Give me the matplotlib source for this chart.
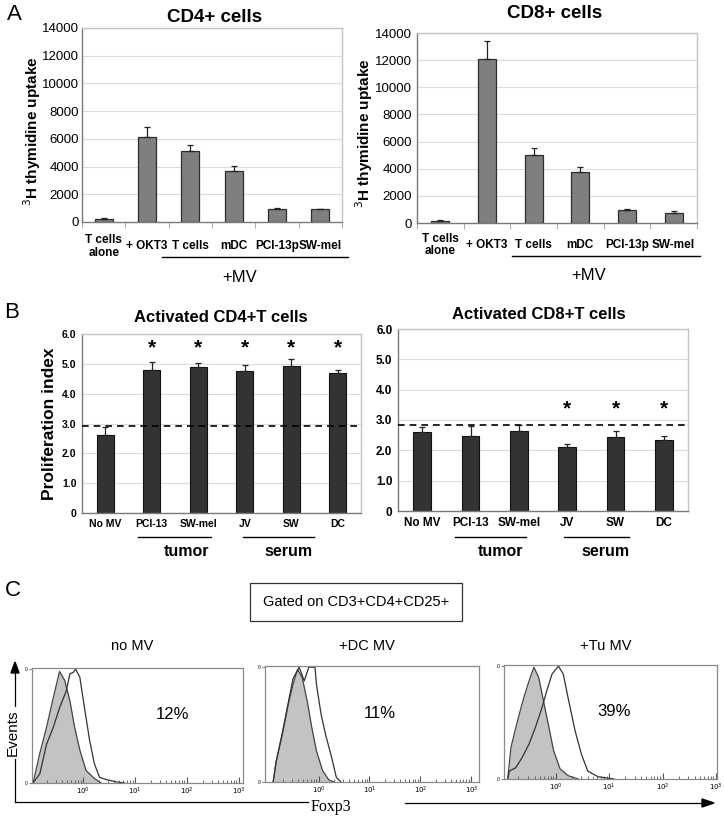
"""
Three-panel MV figure: thymidine uptake (A), proliferation index (B)
and Foxp3 histograms (C). Saves out.png.
"""

import numpy as np
import matplotlib.pyplot as plt
from matplotlib.lines import Line2D

plt.rcParams['font.family'] = ['Liberation Sans', 'DejaVu Sans']

W, H = 724, 827

# --- panel A data ---
a_labels = ["T cells\nalone", "+ OKT3", "T cells", "mDC", "PCI-13p", "SW-mel"]
cd4_vals = [240, 6170, 5140, 3660, 910, 910]
cd4_err = [40, 700, 450, 360, 100, 20]
cd8_vals = [170, 12100, 5000, 3750, 990, 740]
cd8_err = [40, 1300, 550, 350, 70, 150]

# --- panel B data ---
b_labels = ["No MV", "PCI-13", "SW-mel", "JV", "SW", "DC"]
act4_vals = [2.61, 4.78, 4.90, 4.76, 4.94, 4.69]
act4_err = [0.28, 0.29, 0.14, 0.20, 0.22, 0.11]
act4_star = [False, True, True, True, True, True]
act4_base = 2.92
act8_vals = [2.59, 2.48, 2.64, 2.10, 2.45, 2.35]
act8_err = [0.17, 0.31, 0.18, 0.12, 0.20, 0.12]
act8_star = [False, False, False, True, True, True]
act8_base = 2.84

# --- panel C data (log10 Foxp3, relative count) ---
nomv_iso_x = [-0.96, -0.83, -0.70, -0.57, -0.45, -0.35, -0.25, -0.16, -0.06, 0.06, 0.22, 0.35]
nomv_iso_y = [0.0, 0.26, 0.49, 0.75, 0.98, 0.90, 0.72, 0.49, 0.29, 0.11, 0.04, 0.0]
nomv_x = [-0.96, -0.83, -0.70, -0.57, -0.45, -0.32, -0.25, -0.19, -0.14, -0.06, 0.03,
          0.13, 0.22, 0.32, 0.45, 0.64, 0.80]
nomv_y = [0.0, 0.08, 0.34, 0.49, 0.66, 0.81, 0.96, 0.97, 1.0, 0.93, 0.66, 0.37, 0.17,
          0.05, 0.03, 0.01, 0.0]

dc_iso_x = [-0.89, -0.83, -0.71, -0.59, -0.50, -0.41, -0.32, -0.22, -0.13, -0.04, 0.08, 0.20, 0.30]
dc_iso_y = [0.0, 0.18, 0.41, 0.68, 0.85, 0.98, 0.91, 0.70, 0.47, 0.27, 0.10, 0.02, 0.0]
dc_x = [-0.89, -0.83, -0.71, -0.59, -0.50, -0.38, -0.28, -0.19, -0.07, -0.04, 0.05, 0.14,
        0.26, 0.35, 0.44]
dc_y = [0.0, 0.18, 0.43, 0.70, 0.90, 1.0, 0.88, 1.0, 1.0, 0.85, 0.59, 0.41, 0.21, 0.04, 0.0]

tu_iso_x = [-0.90, -0.84, -0.72, -0.60, -0.50, -0.41, -0.32, -0.23, -0.13, -0.04, 0.08, 0.23, 0.42]
tu_iso_y = [0.0, 0.28, 0.51, 0.72, 0.87, 0.99, 0.90, 0.69, 0.46, 0.25, 0.09, 0.03, 0.0]
tu_x = [-0.90, -0.87, -0.75, -0.63, -0.50, -0.38, -0.26, -0.17, -0.07, 0.05, 0.14, 0.23,
        0.36, 0.48, 0.60, 0.79, 1.09]
tu_y = [0.0, 0.07, 0.10, 0.19, 0.31, 0.46, 0.63, 0.78, 0.93, 1.0, 0.93, 0.72, 0.43,
        0.22, 0.07, 0.02, 0.0]

hist_titles = ["no MV", "+DC MV", "+Tu MV"]
hist_pcts = ["12%", "11%", "39%"]


fig = plt.figure(figsize=(W / 100, H / 100), dpi=100)


def px_axes(l, t, r, b):
    return fig.add_axes([l / W, 1 - b / H, (r - l) / W, (b - t) / H])


def ftext(x, y, s, **kw):
    kw.setdefault('ha', 'center')
    kw.setdefault('va', 'center')
    return fig.text(x / W, 1 - y / H, s, **kw)


def fline(x0, x1, y0, y1, **kw):
    fig.add_artist(Line2D([x0 / W, x1 / W], [1 - y0 / H, 1 - y1 / H],
                          transform=fig.transFigure, **kw))


def frame(ax, dark='#7a7a7a', light='#c4c4c4'):
    ax.spines['left'].set_color(dark)
    ax.spines['bottom'].set_color(dark)
    ax.spines['top'].set_color(light)
    ax.spines['right'].set_color(light)
    for s in ax.spines.values():
        s.set_linewidth(1.0)
    ax.set_axisbelow(True)
    ax.yaxis.grid(True, color='#dcdcdc', lw=0.8)


# ---------------- panel A ----------------
def bar_a(ax, vals, errs, width, label_y, ypad):
    x = np.arange(len(vals))
    ax.bar(x, vals, width=width, color='#7f7f7f', edgecolor='#2e2e2e', lw=0.9, zorder=2)
    ax.errorbar(x, vals, yerr=[np.zeros(len(errs)), errs], fmt='none',
                ecolor='#222222', elinewidth=0.9, capsize=2.5, capthick=0.9, zorder=3)
    ax.set_xlim(-0.5, len(vals) - 0.5)
    ax.set_ylim(0, 14000)
    ax.set_yticks(range(0, 14001, 2000))
    ax.tick_params(axis='y', length=0, labelsize=9.5, pad=ypad)
    ax.set_xticks([])
    ax.set_xticks(np.arange(len(vals) + 1) - 0.5, minor=True)
    ax.tick_params(axis='x', which='minor', length=4, color='#9a9a9a', direction='out')
    frame(ax)
    for xi, lab in zip(x, a_labels):
        ax.text(xi, label_y, lab, transform=ax.get_xaxis_transform(), ha='center',
                va='center', fontsize=8.5, fontweight='bold', linespacing=1.1)


ax1 = px_axes(82, 28, 342, 222)
bar_a(ax1, cd4_vals, cd4_err, 0.42, -0.124, 2)
ax1.set_ylabel("$^{3}$H thymidine uptake", fontsize=11, fontweight='bold', va='center')
ax1.yaxis.set_label_coords(-0.193, 0.47)

ax2 = px_axes(417, 33, 697, 223)
bar_a(ax2, cd8_vals, cd8_err, 0.38, -0.116, 3.5)
ax2.set_ylabel("$^{3}$H thymidine uptake", fontsize=11, fontweight='bold', va='center')
ax2.yaxis.set_label_coords(-0.19, 0.47)

ftext(14, 15, "A", fontsize=16)
ftext(215, 18, "CD4+ cells", fontsize=13.5, fontweight='bold')
ftext(555, 14, "CD8+ cells", fontsize=13.5, fontweight='bold')
fline(162, 348, 257, 257, color='black', lw=1.0)
fline(512, 700, 256, 256, color='black', lw=1.0)
ftext(240, 278, "+MV", fontsize=12)
ftext(589, 276, "+MV", fontsize=12)


# ---------------- panel B ----------------
def bar_b(ax, vals, errs, stars, base, star_y, tsize):
    x = np.arange(len(vals))
    ax.bar(x, vals, width=0.36, color='#333333', edgecolor='#111111', lw=0.8, zorder=2)
    ax.errorbar(x, vals, yerr=[np.zeros(len(errs)), errs], fmt='none',
                ecolor='#222222', elinewidth=0.9, capsize=2.5, capthick=0.9, zorder=3)
    ax.axhline(base, color='black', lw=1.2, dashes=(4, 3), zorder=4)
    for xi, st in zip(x, stars):
        if st:
            ax.text(xi, star_y, "*", ha='center', va='center', fontsize=15,
                    fontweight='bold')
    ax.set_xlim(-0.5, len(vals) - 0.5)
    ax.set_ylim(0, 6)
    ax.set_yticks([0, 1, 2, 3, 4, 5, 6])
    ax.set_yticklabels(["0", "1.0", "2.0", "3.0", "4.0", "5.0", "6.0"])
    ax.tick_params(axis='y', length=0, labelsize=tsize, pad=4)
    for t in ax.get_yticklabels():
        t.set_fontweight('bold')
    ax.set_xticks(x)
    ax.set_xticklabels(b_labels, fontsize=tsize, fontweight='bold')
    ax.tick_params(axis='x', length=0, pad=4)
    frame(ax)


ax3 = px_axes(82, 334, 361, 513)
bar_b(ax3, act4_vals, act4_err, act4_star, act4_base, 5.55, 7.5)
ax3.set_ylabel("Proliferation index", fontsize=12.5, fontweight='bold', va='center')
ax3.yaxis.set_label_coords(-0.115, 0.5)

ax4 = px_axes(398, 329, 688, 511)
bar_b(ax4, act8_vals, act8_err, act8_star, act8_base, 3.35, 8.5)

ftext(12, 313, "B", fontsize=16)
ftext(221, 317, "Activated CD4+T cells", fontsize=12, fontweight='bold')
ftext(539, 315, "Activated CD8+T cells", fontsize=12, fontweight='bold')
for x0, x1, xc, lab in [(138, 211, 186, "tumor"), (243, 314, 289, "serum"),
                        (455, 526, 501, "tumor"), (564, 629, 606, "serum")]:
    fline(x0, x1, 537, 537, color='black', lw=1.0)
    ftext(xc, 551, lab, fontsize=11.5, fontweight='bold')


# ---------------- panel C ----------------
ftext(13, 591, "C", fontsize=16)
ftext(356, 602, "Gated on CD3+CD4+CD25+", fontsize=10.5,
      bbox=dict(boxstyle='square,pad=0.85', fc='white', ec='#333333', lw=0.9))

hist_boxes = [(32, 668, 243, 783, -0.98, 3.08), (265, 666, 479, 782, -1.05, 3.15),
              (504, 665, 717, 779, -0.97, 3.02)]
hist_data = [(nomv_iso_x, nomv_iso_y, nomv_x, nomv_y),
             (dc_iso_x, dc_iso_y, dc_x, dc_y),
             (tu_iso_x, tu_iso_y, tu_x, tu_y)]
pct_pos = [1.72, 1.2, 1.1]

for (l, t, r, b, lo, hi), (ix, iy, ox, oy), title, pct, pp in zip(
        hist_boxes, hist_data, hist_titles, hist_pcts, pct_pos):
    ax = px_axes(l, t, r, b)
    ix = 10 ** np.array(ix)
    ox = 10 ** np.array(ox)
    ax.fill_between(ix, iy, 0, color='#c3c3c3', lw=0)
    ax.plot(ix, iy, color='#444444', lw=0.9)
    ax.plot(ox, oy, color='#333333', lw=0.9)
    ax.set_xscale('log')
    ax.set_xlim(10 ** lo, 10 ** hi)
    ax.set_ylim(0, 1.01)
    ax.set_xticks([1, 10, 100, 1000])
    ax.set_xticklabels(["$10^0$", "$10^1$", "$10^2$", "$10^3$"])
    ax.tick_params(axis='x', which='both', direction='in', labelsize=5, pad=2,
                   color='#555555')
    ax.tick_params(axis='x', which='major', length=4)
    ax.tick_params(axis='x', which='minor', length=2)
    ax.set_yticks([0, 1])
    ax.set_yticklabels(["0", "0"])
    ax.tick_params(axis='y', length=2, labelsize=3.5, pad=1, color='#888888')
    for s in ax.spines.values():
        s.set_color('#8a8a8a')
        s.set_linewidth(0.9)
    ax.text(10 ** pp, 0.6, pct, ha='center', va='center', fontsize=12)
    ftext((l + r) / 2 - 5, 646, title, fontsize=10.5)

# Events / Foxp3 axis arrows
fline(15, 15, 802, 672, color='black', lw=0.9)
fig.add_artist(plt.Polygon([[11 / W, 1 - 673 / H], [19 / W, 1 - 673 / H], [15 / W, 1 - 662 / H]],
                           closed=True, transform=fig.transFigure, color='black'))
ftext(13, 733, "Events", fontsize=11, rotation=90,
      bbox=dict(boxstyle='square,pad=0.15', fc='white', ec='none'))
fline(15, 308, 802, 802, color='black', lw=0.9)
ftext(331, 807, "Foxp3", fontsize=11.5, family=['Liberation Serif', 'DejaVu Serif'])
fline(405, 703, 803, 803, color='black', lw=0.9)
fig.add_artist(plt.Polygon([[702 / W, 1 - 799 / H], [702 / W, 1 - 807 / H], [714 / W, 1 - 803 / H]],
                           closed=True, transform=fig.transFigure, color='black'))

fig.savefig("out.png", dpi=100)
